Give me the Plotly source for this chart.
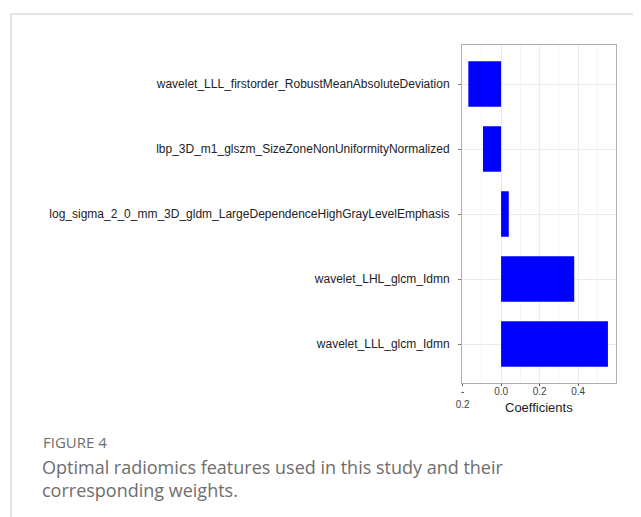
import plotly.graph_objects as go

features = [
    "wavelet_LLL_firstorder_RobustMeanAbsoluteDeviation",
    "lbp_3D_m1_glszm_SizeZoneNonUniformityNormalized",
    "log_sigma_2_0_mm_3D_gldm_LargeDependenceHighGrayLevelEmphasis",
    "wavelet_LHL_glcm_Idmn",
    "wavelet_LLL_glcm_Idmn",
]
coefficients = [-0.17, -0.094, 0.04, 0.38, 0.555]
x_tickvals = [-0.2, 0.0, 0.2, 0.4]
x_ticktext = ["-<br>0.2", "0.0", "0.2", "0.4"]

# page offset (browser body margin)
OFF = 8
W, H = 641 - OFF, 517 - OFF
# plot area in page pixels
L, R, T, B = 462, 616, 45, 383

def px(x):
    return (x - L) / (R - L)

def py(y):
    return (B - y) / (B - T)

fig = go.Figure(go.Bar(
    x=coefficients, y=features, orientation="h",
    marker=dict(color="#0000FF", line=dict(width=0)),
    width=0.7,
))

fig.update_layout(
    width=W, height=H,
    margin=dict(l=L - OFF, r=641 - R, t=T - OFF, b=517 - B),
    paper_bgcolor="white", plot_bgcolor="white",
    showlegend=False,
    font=dict(family="Liberation Sans, Arial, sans-serif", color="#222"),
    xaxis=dict(
        range=[-0.203, 0.597],
        tickvals=x_tickvals, ticktext=x_ticktext,
        tickfont=dict(size=10, color="#444"),
        showgrid=True, gridcolor="#ebebeb", gridwidth=1,
        minor=dict(dtick=0.1, tick0=0.1, showgrid=True, gridcolor="#f4f4f4", gridwidth=0.5),
        zeroline=False,
        ticks="outside", ticklen=2, tickcolor="#555",
        ticklabelstandoff=-3,
        showline=True, linecolor="#b0b0b0", mirror=True,
    ),
    yaxis=dict(
        categoryorder="array", categoryarray=features,
        range=[4.6, -0.6],
        tickfont=dict(size=12, color="#222"),
        showgrid=True, gridcolor="#ebebeb", gridwidth=1,
        zeroline=False,
        ticks="outside", ticklen=3, tickcolor="#777",
        ticklabelstandoff=6,
        showline=True, linecolor="#b0b0b0", mirror=True,
    ),
)

# x-axis title
fig.add_annotation(text="Coefficients", xref="paper", yref="paper",
                   x=0.5, y=py(407), xanchor="center", yanchor="middle",
                   showarrow=False, font=dict(size=13, color="#222"))

# outer figure frame (top and left rules)
fig.add_shape(type="line", xref="paper", yref="paper",
              x0=px(11), x1=px(641), y0=py(14), y1=py(14),
              line=dict(color="#c8c8c8", width=1))
fig.add_shape(type="line", xref="paper", yref="paper",
              x0=px(11), x1=px(11), y0=py(14), y1=py(517),
              line=dict(color="#c8c8c8", width=1))

fig.add_annotation(text="FIGURE 4", xref="paper", yref="paper",
                   x=px(41), y=py(442), xanchor="left", yanchor="middle",
                   showarrow=False,
                   font=dict(family="Open Sans, sans-serif", size=15, color="#6e6e6e"))
fig.add_annotation(text="Optimal radiomics features used in this study and their<br>corresponding weights.",
                   xref="paper", yref="paper",
                   x=px(40), y=py(453), xanchor="left", yanchor="top", align="left",
                   showarrow=False,
                   font=dict(family="Open Sans, sans-serif", size=18, color="#6e6e6e"))

fig.write_html("out.html")
